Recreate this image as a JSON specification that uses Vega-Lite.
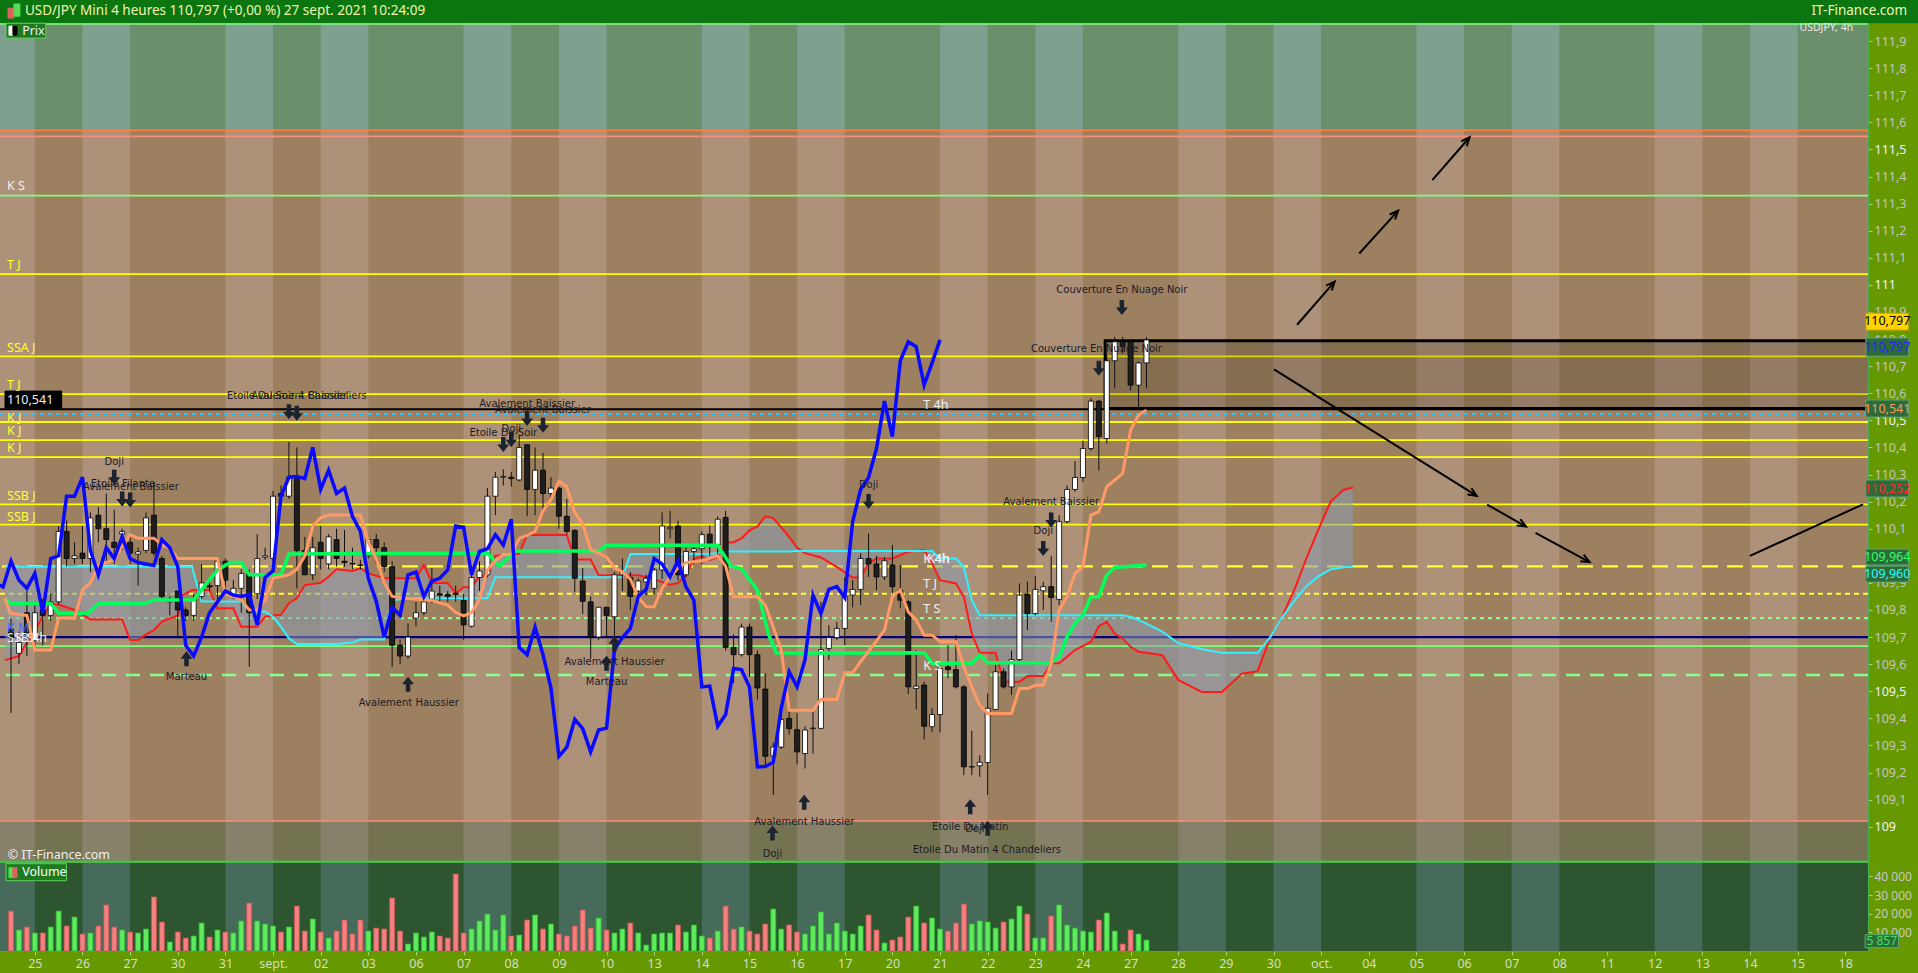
{
  "$schema": "https://vega.github.io/schema/vega-lite/v6.json",
  "description": "USD/JPY 4h avec Ichimoku, volumes et figures de chandeliers",
  "width": 1868,
  "height": 951,
  "autosize": {"type": "none"},
  "padding": {"left": 0, "top": 0, "right": 50, "bottom": 22},
  "background": "#669900",
  "config": {"view": {"stroke": null}, "font": "Noto Sans", "axis": {"grid": false, "labelOverlap": false}},
  "datasets": {
    "c": [
      {"i":-3,"o":109.73,"h":109.77,"l":109.42,"c":109.70,"v":21400},
      {"i":-2,"o":109.64,"h":109.72,"l":109.60,"c":109.68,"v":11250},
      {"i":-1,"o":109.79,"h":109.87,"l":109.63,"c":109.71,"v":12860},
      {"i":0,"o":109.69,"h":109.83,"l":109.66,"c":109.79,"v":9640},
      {"i":1,"o":109.80,"h":109.84,"l":109.67,"c":109.78,"v":9640},
      {"i":2,"o":109.78,"h":109.86,"l":109.76,"c":109.83,"v":12860},
      {"i":3,"o":109.83,"h":110.11,"l":109.82,"c":110.09,"v":21400},
      {"i":4,"o":110.09,"h":110.13,"l":109.96,"c":109.99,"v":13400},
      {"i":5,"o":109.99,"h":110.05,"l":109.97,"c":110.00,"v":18200},
      {"i":6,"o":110.01,"h":110.11,"l":109.97,"c":109.99,"v":9100},
      {"i":7,"o":109.99,"h":110.16,"l":109.94,"c":110.14,"v":9640},
      {"i":8,"o":110.15,"h":110.18,"l":110.05,"c":110.10,"v":13400},
      {"i":9,"o":110.10,"h":110.23,"l":109.97,"c":110.06,"v":24650},
      {"i":10,"o":110.05,"h":110.17,"l":109.97,"c":110.03,"v":12860},
      {"i":11,"o":110.08,"h":110.10,"l":110.02,"c":110.09,"v":11250},
      {"i":12,"o":110.05,"h":110.08,"l":109.97,"c":110.01,"v":10180},
      {"i":13,"o":110.006,"h":110.03,"l":109.89,"c":110.015,"v":9640},
      {"i":14,"o":110.02,"h":110.16,"l":110.01,"c":110.14,"v":11790},
      {"i":15,"o":110.15,"h":110.27,"l":110.00,"c":110.01,"v":28930},
      {"i":16,"o":109.99,"h":110.00,"l":109.84,"c":109.85,"v":15540},
      {"i":17,"o":109.83,"h":109.85,"l":109.78,"c":109.84,"v":4820},
      {"i":18,"o":109.87,"h":109.87,"l":109.70,"c":109.80,"v":10180},
      {"i":19,"o":109.80,"h":109.81,"l":109.76,"c":109.78,"v":6970},
      {"i":20,"o":109.78,"h":109.86,"l":109.76,"c":109.84,"v":8040},
      {"i":21,"o":109.85,"h":109.97,"l":109.84,"c":109.90,"v":15000},
      {"i":22,"o":109.89,"h":109.91,"l":109.87,"c":109.885,"v":7500},
      {"i":23,"o":109.89,"h":109.985,"l":109.84,"c":109.98,"v":11250},
      {"i":24,"o":109.98,"h":109.99,"l":109.87,"c":109.91,"v":10180},
      {"i":25,"o":109.855,"h":109.91,"l":109.84,"c":109.88,"v":9640},
      {"i":26,"o":109.88,"h":109.95,"l":109.79,"c":109.935,"v":16070},
      {"i":27,"o":109.935,"h":109.95,"l":109.59,"c":109.79,"v":25700},
      {"i":28,"o":109.86,"h":110.08,"l":109.84,"c":109.99,"v":16070},
      {"i":29,"o":109.995,"h":110.03,"l":109.985,"c":110.00,"v":14470},
      {"i":30,"o":109.99,"h":110.24,"l":109.98,"c":110.22,"v":13400},
      {"i":31,"o":110.23,"h":110.26,"l":110.19,"c":110.22,"v":10180},
      {"i":32,"o":110.22,"h":110.42,"l":110.21,"c":110.29,"v":12860},
      {"i":33,"o":110.29,"h":110.40,"l":109.88,"c":110.02,"v":24100},
      {"i":34,"o":110.02,"h":110.07,"l":109.93,"c":109.93,"v":10700},
      {"i":35,"o":109.93,"h":110.07,"l":109.91,"c":110.03,"v":17150},
      {"i":36,"o":110.05,"h":110.11,"l":109.95,"c":109.99,"v":10180},
      {"i":37,"o":109.97,"h":110.08,"l":109.95,"c":110.07,"v":6970},
      {"i":38,"o":110.06,"h":110.10,"l":109.96,"c":109.99,"v":10700},
      {"i":39,"o":109.98,"h":110.095,"l":109.96,"c":109.975,"v":16600},
      {"i":40,"o":109.972,"h":110.03,"l":109.95,"c":109.97,"v":9100},
      {"i":41,"o":109.966,"h":109.985,"l":109.95,"c":109.964,"v":16600},
      {"i":42,"o":110.00,"h":110.064,"l":109.99,"c":110.06,"v":10700},
      {"i":43,"o":110.06,"h":110.08,"l":109.97,"c":110.03,"v":12300},
      {"i":44,"o":110.03,"h":110.05,"l":109.94,"c":109.96,"v":11790},
      {"i":45,"o":109.96,"h":109.98,"l":109.59,"c":109.67,"v":28400},
      {"i":46,"o":109.67,"h":109.69,"l":109.60,"c":109.63,"v":10700},
      {"i":47,"o":109.63,"h":109.75,"l":109.62,"c":109.70,"v":3750},
      {"i":48,"o":109.77,"h":109.83,"l":109.74,"c":109.79,"v":9640},
      {"i":49,"o":109.79,"h":109.86,"l":109.78,"c":109.83,"v":7500},
      {"i":50,"o":109.84,"h":109.955,"l":109.825,"c":109.87,"v":10180},
      {"i":51,"o":109.86,"h":109.89,"l":109.83,"c":109.855,"v":8040},
      {"i":52,"o":109.857,"h":109.87,"l":109.83,"c":109.85,"v":6970},
      {"i":53,"o":109.862,"h":109.89,"l":109.83,"c":109.858,"v":41260},
      {"i":54,"o":109.835,"h":109.86,"l":109.69,"c":109.745,"v":9640},
      {"i":55,"o":109.74,"h":109.93,"l":109.735,"c":109.92,"v":11790},
      {"i":56,"o":109.92,"h":109.98,"l":109.87,"c":109.944,"v":16070},
      {"i":57,"o":109.93,"h":110.25,"l":109.92,"c":110.22,"v":19800},
      {"i":58,"o":110.22,"h":110.31,"l":110.15,"c":110.29,"v":11250},
      {"i":59,"o":110.29,"h":110.32,"l":110.26,"c":110.293,"v":19300},
      {"i":60,"o":110.29,"h":110.31,"l":110.255,"c":110.285,"v":8040},
      {"i":61,"o":110.28,"h":110.445,"l":110.275,"c":110.40,"v":8570},
      {"i":62,"o":110.41,"h":110.41,"l":110.146,"c":110.245,"v":16600},
      {"i":63,"o":110.245,"h":110.40,"l":110.15,"c":110.316,"v":19300},
      {"i":64,"o":110.316,"h":110.38,"l":110.17,"c":110.23,"v":11790},
      {"i":65,"o":110.23,"h":110.29,"l":110.20,"c":110.25,"v":14470},
      {"i":66,"o":110.25,"h":110.255,"l":110.10,"c":110.146,"v":9100},
      {"i":67,"o":110.146,"h":110.21,"l":110.08,"c":110.09,"v":8040},
      {"i":68,"o":110.094,"h":110.098,"l":109.866,"c":109.917,"v":13400},
      {"i":69,"o":109.907,"h":109.955,"l":109.785,"c":109.832,"v":21970},
      {"i":70,"o":109.83,"h":109.85,"l":109.62,"c":109.70,"v":12300},
      {"i":71,"o":109.70,"h":109.81,"l":109.69,"c":109.81,"v":17700},
      {"i":72,"o":109.81,"h":109.81,"l":109.70,"c":109.78,"v":11250},
      {"i":73,"o":109.775,"h":109.94,"l":109.68,"c":109.93,"v":9640},
      {"i":74,"o":109.93,"h":109.99,"l":109.87,"c":109.94,"v":11790},
      {"i":75,"o":109.92,"h":109.94,"l":109.80,"c":109.85,"v":15000},
      {"i":76,"o":109.87,"h":109.917,"l":109.83,"c":109.907,"v":9640},
      {"i":77,"o":109.903,"h":109.93,"l":109.853,"c":109.917,"v":3200},
      {"i":78,"o":109.88,"h":109.955,"l":109.86,"c":109.948,"v":9100},
      {"i":79,"o":109.948,"h":110.16,"l":109.915,"c":110.11,"v":9640},
      {"i":80,"o":110.10,"h":110.166,"l":110.064,"c":110.105,"v":9640},
      {"i":81,"o":110.11,"h":110.13,"l":109.91,"c":109.93,"v":13930},
      {"i":82,"o":109.93,"h":110.03,"l":109.92,"c":110.016,"v":10180},
      {"i":83,"o":110.016,"h":110.037,"l":109.97,"c":110.026,"v":13930},
      {"i":84,"o":110.026,"h":110.09,"l":109.97,"c":110.078,"v":8040},
      {"i":85,"o":110.08,"h":110.112,"l":110.00,"c":110.04,"v":6970},
      {"i":86,"o":110.04,"h":110.146,"l":110.00,"c":110.135,"v":10700},
      {"i":87,"o":110.142,"h":110.166,"l":109.65,"c":109.662,"v":24100},
      {"i":88,"o":109.662,"h":109.71,"l":109.53,"c":109.635,"v":11790},
      {"i":89,"o":109.635,"h":109.75,"l":109.628,"c":109.737,"v":12860},
      {"i":90,"o":109.737,"h":109.75,"l":109.553,"c":109.635,"v":10700},
      {"i":91,"o":109.635,"h":109.65,"l":109.47,"c":109.512,"v":9100},
      {"i":92,"o":109.508,"h":109.566,"l":109.226,"c":109.26,"v":14470},
      {"i":93,"o":109.26,"h":109.31,"l":109.117,"c":109.294,"v":22500},
      {"i":94,"o":109.294,"h":109.437,"l":109.287,"c":109.396,"v":11790},
      {"i":95,"o":109.40,"h":109.43,"l":109.34,"c":109.362,"v":13930},
      {"i":96,"o":109.358,"h":109.42,"l":109.23,"c":109.276,"v":10180},
      {"i":97,"o":109.27,"h":109.37,"l":109.215,"c":109.357,"v":9100},
      {"i":98,"o":109.362,"h":109.424,"l":109.27,"c":109.364,"v":13400},
      {"i":99,"o":109.363,"h":109.83,"l":109.36,"c":109.654,"v":20900},
      {"i":100,"o":109.658,"h":109.744,"l":109.615,"c":109.698,"v":9100},
      {"i":101,"o":109.698,"h":109.756,"l":109.69,"c":109.732,"v":15000},
      {"i":102,"o":109.732,"h":109.92,"l":109.67,"c":109.851,"v":10700},
      {"i":103,"o":109.855,"h":109.91,"l":109.81,"c":109.876,"v":9100},
      {"i":104,"o":109.876,"h":110.009,"l":109.818,"c":109.99,"v":13400},
      {"i":105,"o":109.99,"h":110.083,"l":109.922,"c":109.97,"v":19300},
      {"i":106,"o":109.97,"h":110.0,"l":109.873,"c":109.922,"v":11250},
      {"i":107,"o":109.922,"h":109.994,"l":109.91,"c":109.982,"v":4290},
      {"i":108,"o":109.966,"h":110.04,"l":109.86,"c":109.886,"v":5900},
      {"i":109,"o":109.873,"h":109.966,"l":109.806,"c":109.836,"v":7500},
      {"i":110,"o":109.83,"h":109.836,"l":109.49,"c":109.516,"v":18200},
      {"i":111,"o":109.51,"h":109.652,"l":109.433,"c":109.519,"v":24100},
      {"i":112,"o":109.523,"h":109.535,"l":109.322,"c":109.371,"v":15000},
      {"i":113,"o":109.369,"h":109.437,"l":109.35,"c":109.414,"v":17700},
      {"i":114,"o":109.414,"h":109.596,"l":109.348,"c":109.584,"v":11790},
      {"i":115,"o":109.59,"h":109.67,"l":109.547,"c":109.58,"v":10700},
      {"i":116,"o":109.58,"h":109.707,"l":109.51,"c":109.516,"v":15000},
      {"i":117,"o":109.516,"h":109.523,"l":109.19,"c":109.221,"v":25200},
      {"i":118,"o":109.22,"h":109.354,"l":109.19,"c":109.222,"v":14470},
      {"i":119,"o":109.225,"h":109.264,"l":109.184,"c":109.238,"v":16070},
      {"i":120,"o":109.237,"h":109.492,"l":109.117,"c":109.437,"v":15540},
      {"i":121,"o":109.433,"h":109.596,"l":109.43,"c":109.572,"v":12300},
      {"i":122,"o":109.572,"h":109.584,"l":109.51,"c":109.516,"v":15540},
      {"i":123,"o":109.516,"h":109.65,"l":109.486,"c":109.617,"v":17150},
      {"i":124,"o":109.617,"h":109.898,"l":109.612,"c":109.855,"v":24100},
      {"i":125,"o":109.859,"h":109.904,"l":109.726,"c":109.787,"v":19800},
      {"i":126,"o":109.787,"h":109.925,"l":109.78,"c":109.876,"v":6970},
      {"i":127,"o":109.871,"h":109.904,"l":109.8,"c":109.886,"v":6970},
      {"i":128,"o":109.886,"h":110.0,"l":109.756,"c":109.846,"v":18750},
      {"i":129,"o":109.839,"h":110.15,"l":109.818,"c":110.126,"v":24650},
      {"i":130,"o":110.126,"h":110.26,"l":110.12,"c":110.245,"v":13930},
      {"i":131,"o":110.245,"h":110.35,"l":110.236,"c":110.289,"v":12300},
      {"i":132,"o":110.289,"h":110.425,"l":110.273,"c":110.396,"v":10700},
      {"i":133,"o":110.396,"h":110.581,"l":110.388,"c":110.571,"v":10180},
      {"i":134,"o":110.571,"h":110.575,"l":110.314,"c":110.44,"v":16600},
      {"i":135,"o":110.433,"h":110.74,"l":110.415,"c":110.72,"v":20360},
      {"i":136,"o":110.72,"h":110.808,"l":110.618,"c":110.79,"v":10700},
      {"i":137,"o":110.79,"h":110.808,"l":110.747,"c":110.772,"v":3750},
      {"i":138,"o":110.79,"h":110.8,"l":110.61,"c":110.63,"v":11250},
      {"i":139,"o":110.63,"h":110.716,"l":110.538,"c":110.712,"v":9100},
      {"i":140,"o":110.712,"h":110.808,"l":110.618,"c":110.797,"v":5857}
    ],
    "kumo": [
      {"i":-3.76,"a":109.615,"b":109.96},{"i":-2,"a":109.63,"b":109.96},{"i":-1,"a":109.68,"b":109.96},
      {"i":0,"a":109.72,"b":109.96},{"i":1,"a":109.78,"b":109.96},{"i":2,"a":109.82,"b":109.96},
      {"i":3,"a":109.82,"b":109.96},{"i":5,"a":109.80,"b":109.96},{"i":7,"a":109.765,"b":109.96},
      {"i":11,"a":109.765,"b":109.96},{"i":12,"a":109.689,"b":109.96},{"i":13,"a":109.689,"b":109.96},
      {"i":14,"a":109.71,"b":109.96},{"i":15,"a":109.726,"b":109.96},{"i":16,"a":109.757,"b":109.96},
      {"i":18,"a":109.78,"b":109.96},{"i":18.6,"a":109.855,"b":109.96},{"i":19.8,"a":109.874,"b":109.96},
      {"i":21,"a":109.874,"b":109.831},{"i":22,"a":109.874,"b":109.831},{"i":23,"a":109.806,"b":109.831},
      {"i":25,"a":109.806,"b":109.831},{"i":26,"a":109.738,"b":109.831},{"i":27,"a":109.738,"b":109.794},
      {"i":28,"a":109.738,"b":109.794},{"i":29,"a":109.775,"b":109.794},{"i":30,"a":109.78,"b":109.775},
      {"i":31,"a":109.782,"b":109.738},{"i":32,"a":109.825,"b":109.695},{"i":33,"a":109.843,"b":109.674},
      {"i":34,"a":109.892,"b":109.674},{"i":36,"a":109.90,"b":109.674},{"i":37,"a":109.923,"b":109.674},
      {"i":38,"a":109.95,"b":109.674},{"i":40,"a":109.944,"b":109.68},{"i":41,"a":109.954,"b":109.691},
      {"i":42,"a":109.935,"b":109.691},{"i":44,"a":109.917,"b":109.691},{"i":45,"a":109.917,"b":109.837},
      {"i":48,"a":109.917,"b":109.843},{"i":49,"a":109.966,"b":109.843},{"i":50,"a":109.90,"b":109.843},
      {"i":52,"a":109.90,"b":109.843},{"i":53,"a":109.862,"b":109.843},{"i":54,"a":109.884,"b":109.843},
      {"i":55,"a":109.884,"b":109.843},{"i":56,"a":109.925,"b":109.843},{"i":57,"a":109.928,"b":109.843},
      {"i":58,"a":110.0,"b":109.921},{"i":61,"a":110.007,"b":109.921},{"i":62,"a":110.078,"b":109.921},
      {"i":67,"a":110.077,"b":109.921},{"i":68,"a":109.986,"b":109.921},{"i":70,"a":109.986,"b":109.921},
      {"i":71,"a":109.928,"b":109.921},{"i":74,"a":109.928,"b":109.921},{"i":75,"a":109.928,"b":110.007},
      {"i":76,"a":109.928,"b":110.007},{"i":78,"a":109.914,"b":110.007},{"i":80,"a":109.893,"b":110.007},
      {"i":81,"a":109.90,"b":110.007},{"i":82,"a":109.928,"b":110.007},{"i":83,"a":109.989,"b":110.007},
      {"i":84,"a":109.998,"b":110.007},{"i":85,"a":109.985,"b":110.007},{"i":86,"a":109.996,"b":110.01},
      {"i":87,"a":110.048,"b":110.016},{"i":88,"a":110.05,"b":110.016},{"i":89,"a":110.064,"b":110.016},
      {"i":90,"a":110.094,"b":110.016},{"i":91,"a":110.108,"b":110.016},{"i":92,"a":110.146,"b":110.016},
      {"i":93,"a":110.139,"b":110.016},{"i":94,"a":110.105,"b":110.016},{"i":95,"a":110.07,"b":110.016},
      {"i":96,"a":110.03,"b":110.018},{"i":97,"a":110.01,"b":110.018},{"i":99,"a":109.994,"b":110.018},
      {"i":101,"a":109.959,"b":110.018},{"i":103,"a":109.92,"b":110.018},{"i":104,"a":109.92,"b":110.018},
      {"i":105,"a":109.972,"b":110.018},{"i":106,"a":109.99,"b":110.018},{"i":108,"a":109.99,"b":110.018},
      {"i":110,"a":110.015,"b":110.018},{"i":112,"a":110.021,"b":110.018},{"i":113,"a":109.972,"b":110.018},
      {"i":114,"a":109.91,"b":109.99},{"i":116,"a":109.898,"b":109.99},{"i":117,"a":109.849,"b":109.959},
      {"i":118,"a":109.713,"b":109.836},{"i":119,"a":109.642,"b":109.781},{"i":121,"a":109.642,"b":109.781},
      {"i":122,"a":109.535,"b":109.781},{"i":124,"a":109.535,"b":109.781},{"i":125,"a":109.556,"b":109.781},
      {"i":127,"a":109.556,"b":109.781},{"i":128,"a":109.603,"b":109.781},{"i":129,"a":109.603,"b":109.781},
      {"i":130,"a":109.627,"b":109.781},{"i":131,"a":109.652,"b":109.781},{"i":132,"a":109.667,"b":109.781},
      {"i":133,"a":109.683,"b":109.781},{"i":134,"a":109.74,"b":109.781},{"i":135,"a":109.756,"b":109.781},
      {"i":136,"a":109.713,"b":109.781},{"i":137,"a":109.695,"b":109.781},{"i":138,"a":109.664,"b":109.775},
      {"i":139,"a":109.646,"b":109.763},{"i":140,"a":109.642,"b":109.75},{"i":142,"a":109.633,"b":109.72},
      {"i":144,"a":109.542,"b":109.678},{"i":147,"a":109.497,"b":109.655},{"i":149.5,"a":109.497,"b":109.642},
      {"i":152,"a":109.565,"b":109.642},{"i":154,"a":109.574,"b":109.642},{"i":155.6,"a":109.70,"b":109.70},
      {"i":157,"a":109.77,"b":109.77},{"i":158.7,"a":109.88,"b":109.836},{"i":160.2,"a":109.995,"b":109.89},
      {"i":161.7,"a":110.1,"b":109.925},{"i":163.2,"a":110.2,"b":109.95},{"i":164.8,"a":110.243,"b":109.958},
      {"i":166,"a":110.252,"b":109.96}
    ],
    "lignes": [
      {"s":"T","i":-3.76,"p":109.843},{"s":"T","i":-3.1,"p":109.788},{"s":"T","i":-1,"p":109.78},{"s":"T","i":0,"p":109.652},
      {"s":"T","i":2,"p":109.652},{"s":"T","i":3,"p":109.77},{"s":"T","i":5,"p":109.77},{"s":"T","i":6,"p":109.874},
      {"s":"T","i":7,"p":109.9},{"s":"T","i":8,"p":109.966},{"s":"T","i":10,"p":109.985},{"s":"T","i":11,"p":110.034},
      {"s":"T","i":12,"p":110.077},{"s":"T","i":13,"p":110.065},{"s":"T","i":15,"p":110.065},{"s":"T","i":16,"p":110.04},
      {"s":"T","i":17,"p":110.028},{"s":"T","i":18,"p":109.99},{"s":"T","i":23,"p":109.99},{"s":"T","i":24,"p":109.86},
      {"s":"T","i":25,"p":109.85},{"s":"T","i":26,"p":109.837},{"s":"T","i":27,"p":109.8},{"s":"T","i":28,"p":109.8},
      {"s":"T","i":29,"p":109.837},{"s":"T","i":30,"p":109.917},{"s":"T","i":32,"p":109.93},{"s":"T","i":33,"p":109.95},
      {"s":"T","i":34,"p":110.0},{"s":"T","i":35,"p":110.11},{"s":"T","i":36,"p":110.14},{"s":"T","i":37,"p":110.151},
      {"s":"T","i":41,"p":110.151},{"s":"T","i":42,"p":110.05},{"s":"T","i":43,"p":109.99},{"s":"T","i":44,"p":109.9},
      {"s":"T","i":45,"p":109.85},{"s":"T","i":48,"p":109.84},{"s":"T","i":50,"p":109.835},{"s":"T","i":52,"p":109.818},
      {"s":"T","i":53,"p":109.791},{"s":"T","i":54,"p":109.778},{"s":"T","i":55,"p":109.79},{"s":"T","i":56,"p":109.839},
      {"s":"T","i":57,"p":109.948},{"s":"T","i":58,"p":109.982},{"s":"T","i":59,"p":110.005},{"s":"T","i":60,"p":110.005},
      {"s":"T","i":61,"p":110.064},{"s":"T","i":62,"p":110.075},{"s":"T","i":63,"p":110.09},{"s":"T","i":64,"p":110.166},
      {"s":"T","i":65,"p":110.207},{"s":"T","i":66,"p":110.275},{"s":"T","i":67,"p":110.255},{"s":"T","i":68,"p":110.159},
      {"s":"T","i":69,"p":110.118},{"s":"T","i":70,"p":110.023},{"s":"T","i":71,"p":110.01},{"s":"T","i":72,"p":109.996},
      {"s":"T","i":73,"p":109.955},{"s":"T","i":74,"p":109.941},{"s":"T","i":75,"p":109.914},{"s":"T","i":76,"p":109.846},
      {"s":"T","i":77,"p":109.812},{"s":"T","i":78,"p":109.812},{"s":"T","i":79,"p":109.88},{"s":"T","i":80,"p":109.921},
      {"s":"T","i":81,"p":109.955},{"s":"T","i":82,"p":109.975},{"s":"T","i":84,"p":109.982},{"s":"T","i":86,"p":110.0},
      {"s":"T","i":87,"p":109.962},{"s":"T","i":88,"p":109.849},{"s":"T","i":91,"p":109.849},{"s":"T","i":92,"p":109.818},
      {"s":"T","i":94,"p":109.655},{"s":"T","i":95,"p":109.43},{"s":"T","i":98,"p":109.43},{"s":"T","i":99,"p":109.47},
      {"s":"T","i":101,"p":109.47},{"s":"T","i":102,"p":109.568},{"s":"T","i":103,"p":109.568},{"s":"T","i":104,"p":109.609},
      {"s":"T","i":106,"p":109.686},{"s":"T","i":107,"p":109.726},{"s":"T","i":108,"p":109.849},{"s":"T","i":109,"p":109.873},
      {"s":"T","i":110,"p":109.793},{"s":"T","i":111,"p":109.763},{"s":"T","i":112,"p":109.707},{"s":"T","i":113,"p":109.707},
      {"s":"T","i":114,"p":109.683},{"s":"T","i":116,"p":109.683},{"s":"T","i":117,"p":109.59},{"s":"T","i":118,"p":109.516},
      {"s":"T","i":119,"p":109.449},{"s":"T","i":120,"p":109.418},{"s":"T","i":123,"p":109.418},{"s":"T","i":124,"p":109.51},
      {"s":"T","i":125,"p":109.51},{"s":"T","i":126,"p":109.522},{"s":"T","i":127,"p":109.522},{"s":"T","i":128,"p":109.603},
      {"s":"T","i":129,"p":109.8},{"s":"T","i":130,"p":109.849},{"s":"T","i":131,"p":109.935},{"s":"T","i":132,"p":109.96},
      {"s":"T","i":133,"p":110.15},{"s":"T","i":134,"p":110.162},{"s":"T","i":135,"p":110.255},{"s":"T","i":137,"p":110.304},
      {"s":"T","i":138,"p":110.464},{"s":"T","i":139,"p":110.519},{"s":"T","i":140,"p":110.538},
      {"s":"K","i":-3.76,"p":109.843},{"s":"K","i":-3.1,"p":109.824},{"s":"K","i":2,"p":109.824},{"s":"K","i":3,"p":109.788},
      {"s":"K","i":6.7,"p":109.788},{"s":"K","i":8,"p":109.824},{"s":"K","i":13.8,"p":109.824},{"s":"K","i":15,"p":109.837},
      {"s":"K","i":20,"p":109.837},{"s":"K","i":23,"p":109.948},{"s":"K","i":24.6,"p":109.975},{"s":"K","i":26,"p":109.975},
      {"s":"K","i":27,"p":109.93},{"s":"K","i":31,"p":109.93},{"s":"K","i":32,"p":110.007},{"s":"K","i":57,"p":110.01},
      {"s":"K","i":58.5,"p":109.962},{"s":"K","i":60.5,"p":110.018},{"s":"K","i":71,"p":110.018},{"s":"K","i":72,"p":110.039},
      {"s":"K","i":86,"p":110.039},{"s":"K","i":87.7,"p":109.962},{"s":"K","i":89,"p":109.952},{"s":"K","i":91,"p":109.873},
      {"s":"K","i":92.4,"p":109.71},{"s":"K","i":93.4,"p":109.641},{"s":"K","i":112,"p":109.642},{"s":"K","i":113,"p":109.603},
      {"s":"K","i":118,"p":109.603},{"s":"K","i":119,"p":109.633},{"s":"K","i":120,"p":109.605},{"s":"K","i":128,"p":109.605},
      {"s":"K","i":129,"p":109.627},{"s":"K","i":130,"p":109.701},{"s":"K","i":131,"p":109.75},{"s":"K","i":132,"p":109.781},
      {"s":"K","i":133,"p":109.849},{"s":"K","i":134,"p":109.849},{"s":"K","i":135,"p":109.929},{"s":"K","i":136,"p":109.957},
      {"s":"K","i":140,"p":109.966}
    ],
    "stripes": [
      {"d0":-6,"d1":0},{"d0":6,"d1":12},{"d0":24,"d1":30},{"d0":36,"d1":42},{"d0":54,"d1":60},{"d0":66,"d1":72},
      {"d0":84,"d1":90},{"d0":96,"d1":102},{"d0":114,"d1":120},{"d0":126,"d1":132},{"d0":144,"d1":150},{"d0":156,"d1":162},
      {"d0":174,"d1":180},{"d0":186,"d1":192},{"d0":204,"d1":210},{"d0":216,"d1":222}
    ],
    "hl": [
      {"p":111.963,"k":"bord"},{"p":111.571,"k":"orng"},{"p":111.548,"k":"saum"},{"p":111.33,"k":"vert"},
      {"p":111.04,"k":"jaune"},{"p":110.736,"k":"jaune"},{"p":110.597,"k":"jaune"},{"p":110.541,"k":"noir"},
      {"p":110.523,"k":"cyan"},{"p":110.494,"k":"jaune"},{"p":110.427,"k":"jaune"},{"p":110.364,"k":"jaune"},
      {"p":110.19,"k":"jaune"},{"p":110.115,"k":"jaune"},{"p":109.961,"k":"jlong"},{"p":109.86,"k":"jpt"},
      {"p":109.77,"k":"vpt"},{"p":109.70,"k":"marine"},{"p":109.667,"k":"vert"},{"p":109.56,"k":"vlong"},
      {"p":109.021,"k":"saum"},{"p":108.8705,"k":"sep"}
    ],
    "fleches": [
      {"i1":158.97,"p1":110.853,"i2":163.7,"p2":111.012,"h":1},
      {"i1":166.8,"p1":111.116,"i2":171.7,"p2":111.274,"h":1},
      {"i1":176.0,"p1":111.387,"i2":180.7,"p2":111.545,"h":1},
      {"i1":156.07,"p1":110.688,"i2":181.6,"p2":110.221,"h":1},
      {"i1":182.9,"p1":110.189,"i2":187.8,"p2":110.108,"h":1},
      {"i1":189.0,"p1":110.085,"i2":195.8,"p2":109.977,"h":1},
      {"i1":216.0,"p1":110.0,"i2":230.24,"p2":110.19,"h":0}
    ],
    "fig": [
      {"i":10,"p":110.29,"dir":"b"},{"i":11,"p":110.21,"dir":"b"},{"i":12,"p":110.206,"dir":"b"},
      {"i":19.1,"p":109.62,"dir":"h"},{"i":32,"p":110.532,"dir":"b"},{"i":33,"p":110.526,"dir":"b"},
      {"i":47,"p":109.526,"dir":"h"},{"i":62,"p":110.507,"dir":"b"},{"i":64,"p":110.482,"dir":"b"},
      {"i":59,"p":110.411,"dir":"b"},{"i":60,"p":110.429,"dir":"b"},{"i":73,"p":109.675,"dir":"h"},
      {"i":72,"p":109.603,"dir":"h"},{"i":105,"p":110.2,"dir":"b"},{"i":96.9,"p":109.09,"dir":"h"},
      {"i":92.9,"p":108.977,"dir":"h"},{"i":117.8,"p":109.074,"dir":"h"},{"i":120,"p":108.994,"dir":"h"},
      {"i":128,"p":110.132,"dir":"b"},{"i":127,"p":110.027,"dir":"b"},{"i":134,"p":110.692,"dir":"b"},
      {"i":136.9,"p":110.917,"dir":"b"}
    ],
    "figtxt": [
      {"i":10,"p":110.347,"t":"Doji"},
      {"i":11.1,"p":110.266,"t":"Etoile Filante"},
      {"i":12.1,"p":110.254,"t":"Avalement Baissier"},
      {"i":19.1,"p":109.554,"t":"Marteau"},
      {"i":33,"p":110.591,"t":"Etoile Du Soir 4 Chandeliers"},
      {"i":33.3,"p":110.591,"t":"Avalement Baissier"},
      {"i":47.1,"p":109.456,"t":"Avalement Haussier"},
      {"i":62,"p":110.559,"t":"Avalement Baissier"},
      {"i":64,"p":110.537,"t":"Avalement Baissier"},
      {"i":59,"p":110.452,"t":"Etoile Du Soir"},
      {"i":60,"p":110.469,"t":"Doji"},
      {"i":73,"p":109.607,"t":"Avalement Haussier"},
      {"i":72,"p":109.535,"t":"Marteau"},
      {"i":105,"p":110.263,"t":"Doji"},
      {"i":96.9,"p":109.018,"t":"Avalement Haussier"},
      {"i":92.9,"p":108.90,"t":"Doji"},
      {"i":117.8,"p":109.0,"t":"Etoile Du Matin"},
      {"i":118.4,"p":108.99,"t":"Doji"},
      {"i":119.9,"p":108.914,"t":"Etoile Du Matin 4 Chandeliers"},
      {"i":128,"p":110.2,"t":"Avalement Baissier"},
      {"i":127,"p":110.092,"t":"Doji"},
      {"i":133.7,"p":110.762,"t":"Couverture En Nuage Noir"},
      {"i":136.9,"p":110.98,"t":"Couverture En Nuage Noir"}
    ]
  },
  "layer": [
    {
      "data": {"values": [
        {"z":"haut","p0":111.571,"p1":112.1},
        {"z":"milieu","p0":109.021,"p1":111.571},
        {"z":"bas","p0":108.0,"p1":109.021}
      ]},
      "mark": {"type": "rect", "clip": true},
      "encoding": {
        "y": {"field": "p0", "type": "quantitative", "title": null,
              "scale": {"domain": [108.8697, 111.9705], "range": [862, 22], "nice": false, "zero": false},
              "axis": {"orient": "right",
                       "values": [109,109.1,109.2,109.3,109.4,109.5,109.6,109.7,109.8,109.9,110,110.1,110.2,110.3,110.4,110.5,110.6,110.7,110.8,110.9,111,111.1,111.2,111.3,111.4,111.5,111.6,111.7,111.8,111.9],
                       "labelExpr": "replace(format(datum.value, '~r'), '.', ',')",
                       "domainColor": "#4caf50", "tickColor": "#a8d080", "tickSize": 4,
                       "labelColor": {"condition": {"test": "abs(datum.value*2 - round(datum.value*2)) < 0.01", "value": "#f2f2f2"}, "value": "#c4c4c4"},
                       "labelFontSize": 12.5, "labelPadding": 2, "labelOverlap": false}},
        "y2": {"field": "p1"},
        "color": {"field": "z", "type": "nominal", "legend": null,
                  "scale": {"domain": ["haut","milieu","bas"], "range": ["#6b8e6b","#9d805f","#747351"]}}
      }
    },
    {
      "layer": [
        {
          "data": {"values": [{"v0": 0, "v1": 47700}]},
          "mark": {"type": "rect", "color": "#2c5530"},
          "encoding": {
            "y": {"field": "v0", "type": "quantitative", "title": null,
                  "scale": {"domain": [0, 47700], "range": [951, 862], "nice": false, "zero": false},
                  "axis": {"orient": "right", "values": [10000, 20000, 30000, 40000],
                           "labelExpr": "replace(format(datum.value, ',d'), ',', ' ')",
                           "domainColor": "#4caf50", "tickColor": "#a8d080", "tickSize": 4,
                           "labelColor": "#c8c8c8", "labelFontSize": 12, "labelPadding": 2}},
            "y2": {"field": "v1"}
          }
        },
        {
          "data": {"name": "stripes"},
          "mark": {"type": "rect", "color": "#476b5b", "clip": true},
          "encoding": {
            "x": {"field": "d0", "type": "quantitative", "title": null,
                  "scale": {"domain": [-3.758, 230.24], "nice": false, "zero": false},
                  "axis": {"orient": "bottom",
                           "values": [0,6,12,18,24,30,36,42,48,54,60,66,72,78,84,90,96,102,108,114,120,126,132,138,144,150,156,162,168,174,180,186,192,198,204,210,216,222,228],
                           "labelExpr": "['25','26','27','30','31','sept.','02','03','06','07','08','09','10','13','14','15','16','17','20','21','22','23','24','27','28','29','30','oct.','04','05','06','07','08','11','12','13','14','15','18'][round(datum.value/6)]",
                           "domainColor": "#3fae3f", "tickColor": "#a8d080", "tickSize": 4,
                           "labelColor": "#d4dcc4", "labelFontSize": 12.5, "labelPadding": 2,
                           "labelFlush": false}},
            "x2": {"field": "d1"},
            "y": {"datum": 0, "type": "quantitative", "title": null},
            "y2": {"datum": 47700}
          }
        },
        {
          "data": {"name": "c"},
          "mark": {"type": "bar", "size": 5, "strokeWidth": 0.8},
          "encoding": {
            "x": {"field": "i", "type": "quantitative", "title": null},
            "y": {"field": "v", "type": "quantitative", "title": null},
            "y2": {"datum": 0},
            "fill": {"condition": {"test": "datum.c >= datum.o", "value": "#5fea5f"}, "value": "#f48080"},
            "stroke": {"condition": {"test": "datum.c >= datum.o", "value": "#2fb82f"}, "value": "#c85050"}
          }
        },
        {
          "data": {"values": [
            {"i0":-3.63,"i1":3.99,"v0":37680,"v1":46790,"k":"prix"},
            {"i0":-3.26,"i1":-2.76,"v0":39290,"v1":44650,"k":"vertc"},
            {"i0":-2.76,"i1":-2.25,"v0":39290,"v1":44650,"k":"rouge"},
            {"i0":230.5,"i1":234.7,"v0":1770,"v1":8740,"k":"bvert"}
          ]},
          "mark": {"type": "rect", "strokeWidth": 1},
          "encoding": {
            "x": {"field": "i0", "type": "quantitative", "title": null},
            "x2": {"field": "i1"},
            "y": {"field": "v0", "type": "quantitative", "title": null},
            "y2": {"field": "v1"},
            "fill": {"field": "k", "type": "nominal", "legend": null,
                     "scale": {"domain": ["prix","blanc","noir","rouge","vertc","bjaune","bvert","bnoir"],
                               "range": ["#1f7a1f","#ffffff","#000000","#e06060","#55dd55","#ffd400","#2d6b3a","#000000"]}},
            "stroke": {"field": "k", "type": "nominal", "legend": null,
                       "scale": {"domain": ["prix","blanc","noir","rouge","vertc","bjaune","bvert","bnoir"],
                                 "range": ["#5fcf5f","#ffffff","#000000","#e06060","#55dd55","#b89600","#62a872","#000000"]}}
          }
        },
        {
          "data": {"values": [{"i": -1.6, "v": 42200, "t": "Volume"}]},
          "mark": {"type": "text", "align": "left", "baseline": "middle", "fontSize": 12.5, "color": "#ffffff"},
          "encoding": {
            "x": {"field": "i", "type": "quantitative", "title": null},
            "y": {"field": "v", "type": "quantitative", "title": null},
            "text": {"field": "t"}
          }
        },
        {
          "data": {"values": [{"i": 232.6, "v": 5250, "t": "5 857"}]},
          "mark": {"type": "text", "align": "center", "baseline": "middle", "fontSize": 12, "color": "#40e060"},
          "encoding": {
            "x": {"field": "i", "type": "quantitative", "title": null},
            "y": {"field": "v", "type": "quantitative", "title": null},
            "text": {"field": "t"}
          }
        }
      ]
    },
    {
      "resolve": {"scale": {"color": "independent"}},
      "layer": [
        {
          "data": {"name": "stripes"},
          "mark": {"type": "rect", "color": "#7fa08f", "clip": true},
          "encoding": {
            "x": {"field": "d0", "type": "quantitative", "title": null},
            "x2": {"field": "d1"},
            "y": {"datum": 111.571, "type": "quantitative", "title": null, "axis": null,
                  "scale": {"domain": [108.8697, 111.9705], "range": [862, 22], "nice": false, "zero": false}},
            "y2": {"datum": 112.1}
          }
        },
        {
          "data": {"name": "stripes"},
          "mark": {"type": "rect", "color": "#ad9178", "clip": true},
          "encoding": {
            "x": {"field": "d0", "type": "quantitative", "title": null},
            "x2": {"field": "d1"},
            "y": {"datum": 109.021, "type": "quantitative", "title": null, "axis": null},
            "y2": {"datum": 111.571}
          }
        },
        {
          "data": {"name": "stripes"},
          "mark": {"type": "rect", "color": "#868168", "clip": true},
          "encoding": {
            "x": {"field": "d0", "type": "quantitative", "title": null},
            "x2": {"field": "d1"},
            "y": {"datum": 108.8697, "type": "quantitative", "title": null, "axis": null},
            "y2": {"datum": 109.021}
          }
        },
        {
          "data": {"values": [{"i0": -5, "i1": 240, "p0": 111.966, "p1": 112.1}]},
          "mark": {"type": "rect", "color": "#0b760f"},
          "encoding": {
            "x": {"field": "i0", "type": "quantitative", "title": null},
            "x2": {"field": "i1"},
            "y": {"field": "p0", "type": "quantitative", "title": null, "axis": null},
            "y2": {"field": "p1"}
          }
        },
        {
          "data": {"name": "hl"},
          "mark": {"type": "rule"},
          "encoding": {
            "y": {"field": "p", "type": "quantitative", "title": null, "axis": null},
            "color": {"field": "k", "type": "nominal", "legend": null,
                      "scale": {"domain": ["bord","orng","saum","vert","jaune","noir","cyan","jlong","jpt","vpt","marine","vlong","sep"],
                                "range": ["#7cfc7c","#ff7f3f","#ff8c78","#7dff7d","#ffff00","#000000","#33bbff","#ffff33","#ffff33","#88ff88","#000080","#88ff88","#4cbb4c"]}},
            "strokeDash": {"field": "k", "type": "nominal", "legend": null,
                           "scale": {"domain": ["bord","orng","saum","vert","jaune","noir","cyan","jlong","jpt","vpt","marine","vlong","sep"],
                                     "range": [[1,0],[1,0],[1,0],[1,0],[1,0],[1,0],[4,4],[16,9],[5,4],[4,4],[1,0],[14,10],[1,0]]}},
            "strokeWidth": {"field": "k", "type": "ordinal", "legend": null,
                            "scale": {"domain": ["bord","orng","saum","vert","jaune","noir","cyan","jlong","jpt","vpt","marine","vlong","sep"],
                                      "range": [1.5,2.5,1.2,1.2,1.4,1,1.2,2.2,1.4,1.2,1.4,1.2,1.5]}}
          }
        },
        {
          "data": {"values": [{"i0": 134.8, "i1": 232, "p0": 110.544, "p1": 110.794}]},
          "mark": {"type": "rect", "fill": "#000000", "fillOpacity": 0.15, "stroke": "#000000", "strokeWidth": 3, "clip": true},
          "encoding": {
            "x": {"field": "i0", "type": "quantitative", "title": null},
            "x2": {"field": "i1"},
            "y": {"field": "p0", "type": "quantitative", "title": null, "axis": null},
            "y2": {"field": "p1"}
          }
        },
        {
          "data": {"name": "kumo"},
          "mark": {"type": "area", "color": "#8a9bb0", "opacity": 0.55, "clip": true},
          "encoding": {
            "x": {"field": "i", "type": "quantitative", "title": null},
            "y": {"field": "a", "type": "quantitative", "title": null, "axis": null},
            "y2": {"field": "b"}
          }
        },
        {
          "data": {"name": "kumo"},
          "mark": {"type": "line", "color": "#ff1a1a", "strokeWidth": 2, "clip": true},
          "encoding": {
            "x": {"field": "i", "type": "quantitative", "title": null},
            "y": {"field": "a", "type": "quantitative", "title": null, "axis": null}
          }
        },
        {
          "data": {"name": "kumo"},
          "mark": {"type": "line", "color": "#33f0ff", "strokeWidth": 2, "clip": true},
          "encoding": {
            "x": {"field": "i", "type": "quantitative", "title": null},
            "y": {"field": "b", "type": "quantitative", "title": null, "axis": null}
          }
        },
        {
          "data": {"name": "c"},
          "mark": {"type": "rule", "color": "#111111", "strokeWidth": 1},
          "encoding": {
            "x": {"field": "i", "type": "quantitative", "title": null},
            "y": {"field": "l", "type": "quantitative", "title": null, "axis": null},
            "y2": {"field": "h"}
          }
        },
        {
          "data": {"name": "c"},
          "mark": {"type": "bar", "size": 5, "stroke": "#000000", "strokeWidth": 0.8},
          "encoding": {
            "x": {"field": "i", "type": "quantitative", "title": null},
            "y": {"field": "o", "type": "quantitative", "title": null, "axis": null},
            "y2": {"field": "c"},
            "fill": {"condition": {"test": "datum.c >= datum.o", "value": "#ffffff"}, "value": "#1e1e1e"}
          }
        },
        {
          "data": {"name": "lignes"},
          "transform": [{"filter": "datum.s == 'K'"}],
          "mark": {"type": "line", "color": "#00ff5a", "strokeWidth": 3.5, "clip": true},
          "encoding": {
            "x": {"field": "i", "type": "quantitative", "title": null},
            "y": {"field": "p", "type": "quantitative", "title": null, "axis": null}
          }
        },
        {
          "data": {"name": "lignes"},
          "transform": [{"filter": "datum.s == 'T'"}],
          "mark": {"type": "line", "color": "#ff9966", "strokeWidth": 3, "clip": true},
          "encoding": {
            "x": {"field": "i", "type": "quantitative", "title": null},
            "y": {"field": "p", "type": "quantitative", "title": null, "axis": null}
          }
        },
        {
          "data": {"name": "c"},
          "transform": [{"calculate": "datum.i - 26", "as": "ix"}],
          "mark": {"type": "line", "color": "#0a0aff", "strokeWidth": 3.5, "clip": true},
          "encoding": {
            "x": {"field": "ix", "type": "quantitative", "title": null},
            "y": {"field": "c", "type": "quantitative", "title": null, "axis": null}
          }
        },
        {
          "data": {"name": "fleches"},
          "mark": {"type": "rule", "color": "#000000", "strokeWidth": 2, "clip": true},
          "encoding": {
            "x": {"field": "i1", "type": "quantitative", "title": null},
            "x2": {"field": "i2"},
            "y": {"field": "p1", "type": "quantitative", "title": null, "axis": null},
            "y2": {"field": "p2"}
          }
        },
        {
          "data": {"name": "fleches"},
          "transform": [
            {"filter": "datum.h == 1"},
            {"calculate": "atan2((datum.i2 - datum.i1) * 7.983, (datum.p2 - datum.p1) * 270.9) * 180 / PI", "as": "ang"}
          ],
          "mark": {"type": "point", "shape": "M-0.6,1.4L0,0L0.6,1.4", "filled": false, "stroke": "#000000", "strokeWidth": 2, "size": 150, "opacity": 1},
          "encoding": {
            "x": {"field": "i2", "type": "quantitative", "title": null},
            "y": {"field": "p2", "type": "quantitative", "title": null, "axis": null},
            "angle": {"field": "ang", "type": "quantitative", "scale": null}
          }
        },
        {
          "data": {"name": "fig"},
          "mark": {"type": "point", "filled": true, "color": "#1b2230", "opacity": 1, "size": 225},
          "encoding": {
            "x": {"field": "i", "type": "quantitative", "title": null},
            "y": {"field": "p", "type": "quantitative", "title": null, "axis": null},
            "shape": {"field": "dir", "type": "nominal", "legend": null,
                      "scale": {"domain": ["b","h"],
                                "range": ["M-0.3,-1L0.3,-1L0.3,0L0.8,0L0,1L-0.8,0L-0.3,0Z", "M-0.3,1L0.3,1L0.3,0L0.8,0L0,-1L-0.8,0L-0.3,0Z"]}}
          }
        },
        {
          "data": {"name": "figtxt"},
          "mark": {"type": "text", "align": "center", "baseline": "middle", "fontSize": 10, "color": "#1c1c28", "font": "DejaVu Sans"},
          "encoding": {
            "x": {"field": "i", "type": "quantitative", "title": null},
            "y": {"field": "p", "type": "quantitative", "title": null, "axis": null},
            "text": {"field": "t"}
          }
        },
        {
          "data": {"values": [
            {"i0":-3.63,"i1":1.38,"p0":111.911,"p1":111.966,"k":"prix"},
            {"i0":-3.26,"i1":-2.76,"p0":111.922,"p1":111.955,"k":"blanc"},
            {"i0":-2.76,"i1":-2.25,"p0":111.922,"p1":111.955,"k":"noir"},
            {"i0":-3.38,"i1":-2.63,"p0":111.985,"p1":112.021,"k":"rouge"},
            {"i0":-2.63,"i1":-1.88,"p0":111.992,"p1":112.037,"k":"vertc"},
            {"i0":230.6,"i1":236.0,"p0":110.833,"p1":110.896,"k":"bjaune"},
            {"i0":230.6,"i1":236.0,"p0":110.737,"p1":110.804,"k":"bvert"},
            {"i0":230.6,"i1":236.0,"p0":110.512,"p1":110.575,"k":"bvert"},
            {"i0":230.6,"i1":236.0,"p0":110.217,"p1":110.28,"k":"bvert"},
            {"i0":230.6,"i1":236.0,"p0":109.966,"p1":110.025,"k":"bvert"},
            {"i0":230.6,"i1":236.0,"p0":109.903,"p1":109.962,"k":"bvert"},
            {"i0":-3.758,"i1":3.38,"p0":110.545,"p1":110.608,"k":"bnoir"}
          ]},
          "mark": {"type": "rect", "strokeWidth": 1},
          "encoding": {
            "x": {"field": "i0", "type": "quantitative", "title": null},
            "x2": {"field": "i1"},
            "y": {"field": "p0", "type": "quantitative", "title": null, "axis": null},
            "y2": {"field": "p1"},
            "fill": {"field": "k", "type": "nominal", "legend": null,
                     "scale": {"domain": ["prix","blanc","noir","rouge","vertc","bjaune","bvert","bnoir"],
                               "range": ["#1f7a1f","#ffffff","#000000","#e06060","#55dd55","#ffd400","#2d6b3a","#000000"]}},
            "stroke": {"field": "k", "type": "nominal", "legend": null,
                       "scale": {"domain": ["prix","blanc","noir","rouge","vertc","bjaune","bvert","bnoir"],
                                 "range": ["#5fcf5f","#ffffff","#000000","#e06060","#55dd55","#b89600","#62a872","#000000"]}}
          }
        },
        {
          "data": {"values": [
            {"i":-3.5,"p":111.364,"t":"K S","k":"tw"},
            {"i":-3.5,"p":111.075,"t":"T J","k":"tj"},
            {"i":-3.5,"p":110.768,"t":"SSA J","k":"tj"},
            {"i":-3.5,"p":110.632,"t":"T J","k":"tj"},
            {"i":-3.5,"p":110.51,"t":"K J","k":"tj"},
            {"i":-3.5,"p":110.46,"t":"K J","k":"tj"},
            {"i":-3.5,"p":110.397,"t":"K J","k":"tj"},
            {"i":-3.5,"p":110.22,"t":"SSB J","k":"tj"},
            {"i":-3.5,"p":110.144,"t":"SSB J","k":"tj"},
            {"i":-3.5,"p":109.732,"t":"K M","k":"tbl"},
            {"i":-3.5,"p":109.697,"t":"SSB 4h","k":"tw"},
            {"i":-2.4,"p":109.697,"t":"K S","k":"tw"},
            {"i":111.9,"p":110.556,"t":"T 4h","k":"tw"},
            {"i":111.9,"p":109.99,"t":"K 4h","k":"tw"},
            {"i":112.4,"p":109.99,"t":"K4h","k":"tw"},
            {"i":111.9,"p":109.895,"t":"T J","k":"tw"},
            {"i":111.9,"p":109.804,"t":"T S","k":"tw"},
            {"i":111.9,"p":109.594,"t":"K S","k":"tw"},
            {"i":-1.6,"p":111.939,"t":"Prix","k":"tw"},
            {"i":-3.4,"p":108.896,"t":"© IT-Finance.com","k":"tw"},
            {"i":-3.5,"p":110.576,"t":"110,541","k":"tw"}
          ]},
          "mark": {"type": "text", "align": "left", "baseline": "middle", "fontSize": 12.5},
          "encoding": {
            "x": {"field": "i", "type": "quantitative", "title": null},
            "y": {"field": "p", "type": "quantitative", "title": null, "axis": null},
            "text": {"field": "t"},
            "color": {"field": "k", "type": "nominal", "legend": null,
                      "scale": {"domain": ["tw","tj","tbl"], "range": ["#f0f0f0","#ffff33","#4a66ff"]}}
          }
        },
        {
          "data": {"values": [
            {"i":233.3,"p":110.865,"t":"110,797","k":"tn"},
            {"i":233.3,"p":110.77,"t":"110,797","k":"tb"},
            {"i":233.3,"p":110.543,"t":"110,541","k":"to"},
            {"i":233.3,"p":110.248,"t":"110,252","k":"tr"},
            {"i":233.3,"p":109.995,"t":"109,964","k":"tg"},
            {"i":233.3,"p":109.932,"t":"109,960","k":"tc"}
          ]},
          "mark": {"type": "text", "align": "center", "baseline": "middle", "fontSize": 12.5},
          "encoding": {
            "x": {"field": "i", "type": "quantitative", "title": null},
            "y": {"field": "p", "type": "quantitative", "title": null, "axis": null},
            "text": {"field": "t"},
            "color": {"field": "k", "type": "nominal", "legend": null,
                      "scale": {"domain": ["tn","tb","to","tr","tg","tc"],
                                "range": ["#000000","#2424ff","#ff9a5a","#ff2a2a","#33ff66","#22ffff"]}}
          }
        },
        {
          "data": {"values": [{"i": -1.25, "p": 112.011, "t": "USD/JPY Mini 4 heures 110,797 (+0,00 %) 27 sept. 2021 10:24:09"}]},
          "mark": {"type": "text", "align": "left", "baseline": "middle", "fontSize": 13.5, "color": "#f2f2b0"},
          "encoding": {
            "x": {"field": "i", "type": "quantitative", "title": null},
            "y": {"field": "p", "type": "quantitative", "title": null, "axis": null},
            "text": {"field": "t"}
          }
        },
        {
          "data": {"values": [{"i": 235.8, "p": 112.011, "t": "IT-Finance.com"}]},
          "mark": {"type": "text", "align": "right", "baseline": "middle", "fontSize": 13.5, "color": "#eef6b8"},
          "encoding": {
            "x": {"field": "i", "type": "quantitative", "title": null},
            "y": {"field": "p", "type": "quantitative", "title": null, "axis": null},
            "text": {"field": "t"}
          }
        },
        {
          "data": {"values": [{"i": 229.0, "p": 111.948, "t": "USDJPY, 4h"}]},
          "mark": {"type": "text", "align": "right", "baseline": "middle", "fontSize": 10.5, "color": "#e8e8e8"},
          "encoding": {
            "x": {"field": "i", "type": "quantitative", "title": null},
            "y": {"field": "p", "type": "quantitative", "title": null, "axis": null},
            "text": {"field": "t"}
          }
        }
      ]
    }
  ],
  "resolve": {"scale": {"y": "independent", "color": "independent", "fill": "independent", "stroke": "independent"}, "axis": {"y": "independent"}}
}
